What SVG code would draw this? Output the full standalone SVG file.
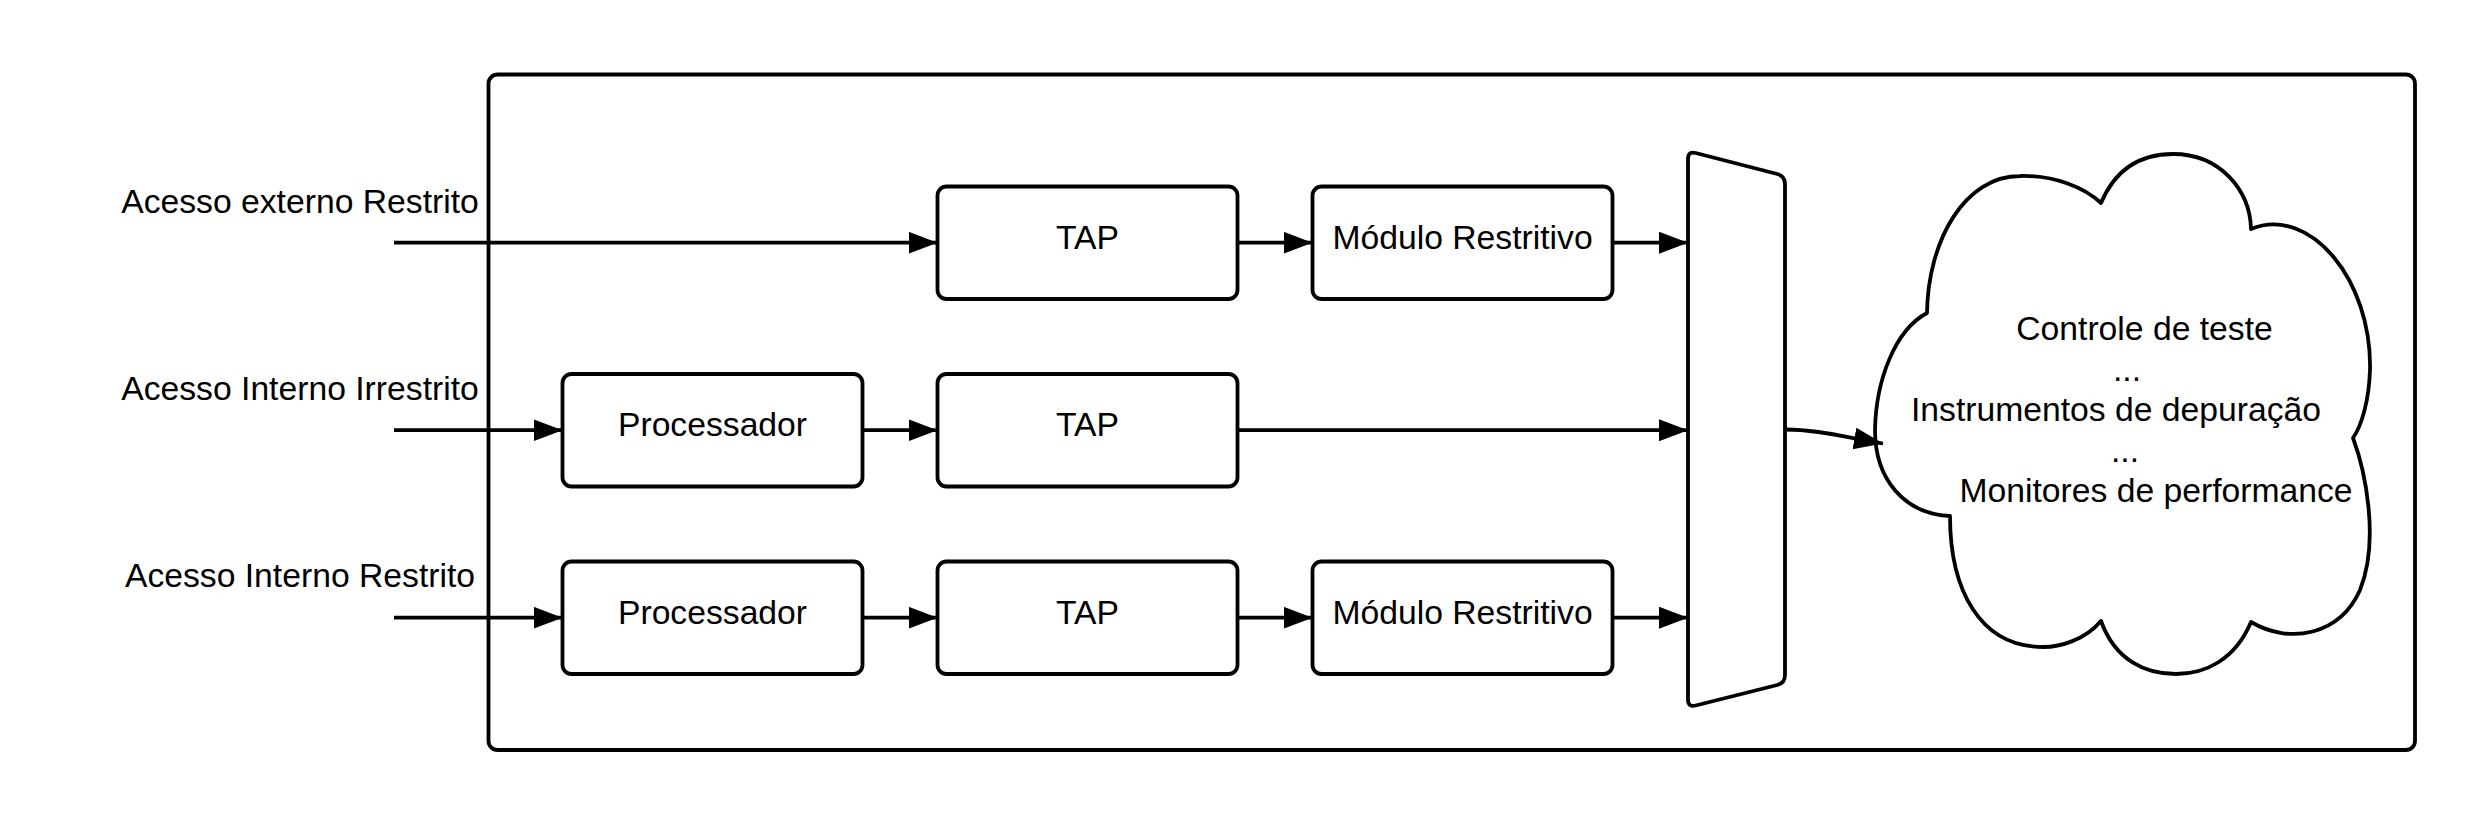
<svg xmlns="http://www.w3.org/2000/svg" width="2475" height="825" viewBox="0 0 2475 825">
<style>
.shape{fill:#fff;stroke:#000;stroke-width:3.8;stroke-linejoin:round}
.edge{fill:none;stroke:#000;stroke-width:3.8}
text{font-family:"Liberation Sans",Arial,sans-serif;font-size:33.7px;fill:#000;text-anchor:middle}
</style>
<defs>
<marker id="arr" markerUnits="userSpaceOnUse" markerWidth="32" markerHeight="24" refX="29" refY="11" orient="auto">
<path d="M0,0 L29,11 L0,22 Z" fill="#000"/>
</marker>
</defs>
<rect width="2475" height="825" fill="#fff"/>
<g id="container">
<rect class="shape" x="488.5" y="74.5" width="1926.5" height="675.5" rx="9"/>
</g>
<g id="label-externo"><text x="300" y="213">Acesso externo Restrito</text></g>
<g id="label-irrestrito"><text x="300" y="400">Acesso Interno Irrestrito</text></g>
<g id="label-restrito"><text x="300" y="587">Acesso Interno Restrito</text></g>
<g id="tap1"><rect class="shape" x="937.5" y="186.5" width="300" height="112.5" rx="9"/><text x="1087.5" y="248.5">TAP</text></g>
<g id="mod1"><rect class="shape" x="1312.5" y="186.5" width="300" height="112.5" rx="9"/><text x="1462.5" y="248.5">Módulo Restritivo</text></g>
<g id="proc2"><rect class="shape" x="562.5" y="374" width="300" height="112.5" rx="9"/><text x="712.5" y="436">Processador</text></g>
<g id="tap2"><rect class="shape" x="937.5" y="374" width="300" height="112.5" rx="9"/><text x="1087.5" y="436">TAP</text></g>
<g id="proc3"><rect class="shape" x="562.5" y="561.5" width="300" height="112.5" rx="9"/><text x="712.5" y="623.5">Processador</text></g>
<g id="tap3"><rect class="shape" x="937.5" y="561.5" width="300" height="112.5" rx="9"/><text x="1087.5" y="623.5">TAP</text></g>
<g id="mod3"><rect class="shape" x="1312.5" y="561.5" width="300" height="112.5" rx="9"/><text x="1462.5" y="623.5">Módulo Restritivo</text></g>
<g id="mux">
<path class="shape" d="M1688 159 Q1688 151 1695.7 153 L1777.3 174 Q1785 176 1785 184 L1785 675 Q1785 683 1777.3 685 L1695.7 705.5 Q1688 707.5 1688 699.5 Z"/>
</g>
<g id="cloud">
<path class="shape" d="M1927 313 C1928 240 1965 176 2020 176 C2055 175 2085 188 2101 203 C2115 170 2140 154 2173 154 C2220 154 2250 190 2251 229 C2310 205 2372 280 2370 370 C2369 400 2362 425 2353 438 C2365 470 2380 540 2360 590 C2340 635 2290 645 2251 622 C2235 660 2205 674 2176 674 C2145 674 2115 660 2101 621 C2085 640 2060 647 2043 647 C1980 647 1950 590 1950 516 C1905 514 1875 480 1875 430 C1876 380 1895 330 1927 313 Z"/>
<text x="2144.5" y="340">Controle de teste</text>
<text x="2127" y="380.5">...</text>
<text x="2116" y="421">Instrumentos de depuração</text>
<text x="2125" y="461.5">...</text>
<text x="2156" y="502">Monitores de performance</text>
</g>
<g id="connectors">
<path class="edge" marker-end="url(#arr)" d="M394 242.7 H937.5"/>
<path class="edge" marker-end="url(#arr)" d="M1237.5 242.7 H1312.5"/>
<path class="edge" marker-end="url(#arr)" d="M1612.5 242.7 H1688"/>
<path class="edge" marker-end="url(#arr)" d="M394 430.2 H562.5"/>
<path class="edge" marker-end="url(#arr)" d="M862.5 430.2 H937.5"/>
<path class="edge" marker-end="url(#arr)" d="M1237.5 430.2 H1688"/>
<path class="edge" marker-end="url(#arr)" d="M394 617.7 H562.5"/>
<path class="edge" marker-end="url(#arr)" d="M862.5 617.7 H937.5"/>
<path class="edge" marker-end="url(#arr)" d="M1237.5 617.7 H1312.5"/>
<path class="edge" marker-end="url(#arr)" d="M1612.5 617.7 H1688"/>
<path class="edge" marker-end="url(#arr)" d="M1785 429.5 C1815 429.5 1840 436 1883 443.5"/>
</g>
</svg>
